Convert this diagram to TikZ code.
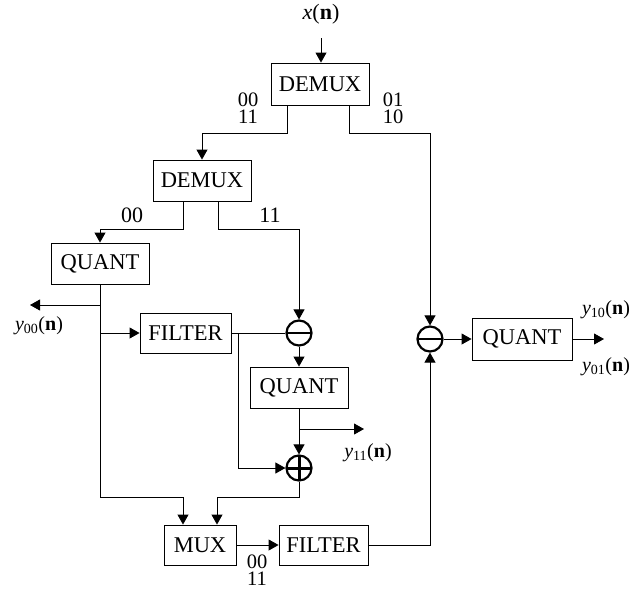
\documentclass[tikz,border=0pt]{standalone}
\usepackage{fontspec}
\setmainfont{Liberation Serif}
\usetikzlibrary{arrows.meta}
\begin{document}
\begin{tikzpicture}[x=1pt,y=-1pt,
  lbl/.style={inner sep=0pt, font=\fontsize{22}{17}\selectfont},
  dig/.style={inner sep=0pt, text height=13pt, text depth=0pt, font=\fontsize{20.5}{17}\selectfont},
  olbl/.style={inner sep=0pt, font=\fontsize{20}{17}\selectfont},
  blk/.style={draw, line width=0.9pt, inner sep=0pt, minimum height=41pt, font=\fontsize{22.5}{17}\selectfont},
  conn/.style={line width=0.9pt},
  arr/.style={conn, -{Triangle[length=10pt,width=11pt]}},
  sumc/.style={circle, draw, line width=2.2pt, minimum size=25pt, inner sep=0pt},
  minusc/.style={sumc, path picture={\draw[line width=2.2pt] (path picture bounding box.west) -- (path picture bounding box.east);}},
  plusc/.style={sumc, path picture={\draw[line width=3pt] (path picture bounding box.west) -- (path picture bounding box.east) (path picture bounding box.north) -- (path picture bounding box.south);}}
]
\useasboundingbox (0,0) rectangle (634,590);

% nodes
\node[lbl] (xn) at (321,14) {\textit{x}(\textbf{n})};
\node[blk, minimum width=98pt, minimum height=42pt] (dmA) at (320,84) {DEMUX};
\node[blk, minimum width=98pt] (dmB) at (202,180.5) {DEMUX};
\node[blk, minimum width=98pt] (qA) at (100,263.5) {QUANT};
\node[blk, minimum width=91pt, minimum height=40pt] (fA) at (185.5,333) {FILTER};
\node[minusc] (mnA) at (299,333) {};
\node[blk, minimum width=98pt] (qB) at (299,387.5) {QUANT};
\node[plusc] (plA) at (299,468) {};
\node[blk, minimum width=72pt, minimum height=40pt] (mux) at (200,545) {MUX};
\node[blk, minimum width=89pt, minimum height=40pt] (fB) at (323.5,545) {FILTER};
\node[minusc] (mnB) at (430,339) {};
\node[blk, minimum width=100pt, minimum height=42pt] (qC) at (522,339) {QUANT};

% labels
\node[dig] (l00a) at (248,100) {00};
\node[dig] (l11a) at (248,117) {11};
\node[dig] (l01) at (393,100) {01};
\node[dig] (l10) at (393,117) {10};
\node[lbl] (l00) at (132,215) {00};
\node[lbl] (l11) at (270,215) {11};
\node[olbl] (y00) at (39,326) {\textit{y}\textsubscript{00}(\textbf{n})};
\node[olbl] (y11) at (368,453) {\textit{y}\textsubscript{11}(\textbf{n})};
\node[olbl] (y10) at (606,310) {\textit{y}\textsubscript{10}(\textbf{n})};
\node[olbl] (y01) at (606,367) {\textit{y}\textsubscript{01}(\textbf{n})};
\node[dig] (l00b) at (257,562) {00};
\node[dig] (l11b) at (257,579) {11};

% coordinates
\coordinate (xin) at (321,38);
\coordinate (aL) at (287,133);
\coordinate (aR) at (349,133);
\coordinate (bL) at (183,229);
\coordinate (bR) at (218,229);
\coordinate (c1) at (100,305);
\coordinate (y00end) at (30,305);
\coordinate (c2) at (100,333);
\coordinate (c3) at (100,497);
\coordinate (d1) at (238,333);
\coordinate (e1) at (299,429);
\coordinate (y11end) at (364,429);
\coordinate (f1) at (299,497);
\coordinate (g1) at (430,545);
\coordinate (yout) at (604,339);

% connectors
\draw[arr] (xin) -- (xin |- dmA.north);
\draw[arr] (aL |- dmA.south) -- (aL) -| (dmB.north);
\draw[arr] (aR |- dmA.south) -- (aR) -| (mnB.north);
\draw[arr] (bL |- dmB.south) -- (bL) -| (qA.north);
\draw[arr] (bR |- dmB.south) -- (bR) -| (mnA.north);
\draw[arr] (c1) -- (y00end);
\draw[arr] (c2) -- (fA.west);
\draw[arr] (qA.south) -- (c3) -| ([xshift=-17pt]mux.north);
\draw[conn] (fA.east) -- (mnA.west);
\draw[arr] (d1) |- (plA.west);
\draw[arr] (mnA.south) -- (qB.north);
\draw[arr] (qB.south) -- (plA.north);
\draw[arr] (e1) -- (y11end);
\draw[arr] (plA.south) -- (f1) -| ([xshift=17pt]mux.north);
\draw[arr] (mux.east) -- (fB.west);
\draw[arr] (fB.east) -- (g1) -- (mnB.south);
\draw[arr] (mnB.east) -- (qC.west);
\draw[arr] (qC.east) -- (yout);
\end{tikzpicture}
\end{document}
